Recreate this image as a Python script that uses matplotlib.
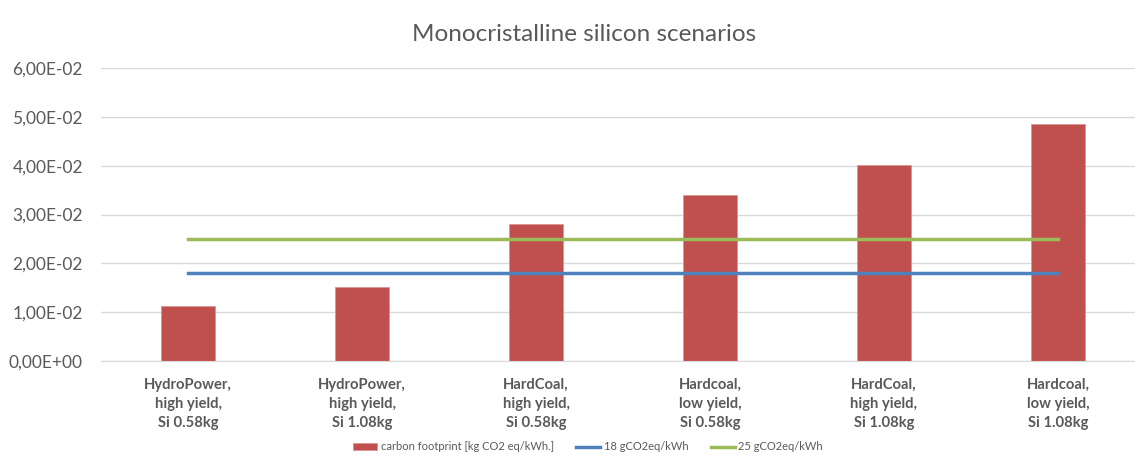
import matplotlib.pyplot as plt
from matplotlib.ticker import FuncFormatter

# scenario data
categories = ["HydroPower,\nhigh yield,\nSi 0.58kg",
              "HydroPower,\nhigh yield,\nSi 1.08kg",
              "HardCoal,\nhigh yield,\nSi 0.58kg",
              "Hardcoal,\nlow yield,\nSi 0.58kg",
              "HardCoal,\nhigh yield,\nSi 1.08kg",
              "Hardcoal,\nlow yield,\nSi 1.08kg"]
footprint = [1.13e-2, 1.52e-2, 2.81e-2, 3.40e-2, 4.01e-2, 4.85e-2]
limit_18 = [0.018] * 6
limit_25 = [0.025] * 6

plt.rcParams['font.family'] = ['Lato', 'DejaVu Sans']

fig = plt.figure(figsize=(11.35, 4.55), dpi=100)
ax = fig.add_axes([0.089, 0.2066, 0.9198, 0.6439])

x = range(len(categories))
bars = ax.bar(x, footprint, width=0.31, color='#C0504D', edgecolor='#D99694', linewidth=0.6,
              label='carbon footprint [kg CO2 eq/kWh.]', zorder=2)
l18, = ax.plot(x, limit_18, color='#4F81BD', linewidth=2.5, label='18 gCO2eq/kWh', zorder=3)
l25, = ax.plot(x, limit_25, color='#9BBB59', linewidth=2.5, label='25 gCO2eq/kWh', zorder=3)

ax.set_xlim(-0.5, 5.5)
ax.set_ylim(0, 0.06)
ax.set_yticks([0, 0.01, 0.02, 0.03, 0.04, 0.05, 0.06])
ax.yaxis.set_major_formatter(FuncFormatter(lambda v, p: f"{v:.2E}".replace('.', ',')))
ax.grid(axis='y', color='#D9D9D9', linewidth=1, zorder=0)
ax.set_axisbelow(True)

ax.set_xticks(list(x))
ax.set_xticklabels(categories, fontweight='bold', fontsize=10.6, color='#595959', linespacing=1.45)
ax.tick_params(axis='x', length=0, pad=12)
ax.tick_params(axis='y', length=0, pad=13, labelsize=12.5, labelcolor='#595959')
for s in ['top', 'right', 'left']:
    ax.spines[s].set_visible(False)
ax.spines['bottom'].set_color('#D9D9D9')

fig.text(0.5145, 0.925, 'Monocristalline silicon scenarios', ha='center', va='center',
         fontsize=17.5, color='#595959')

fig.legend([bars, l18, l25], [bars.get_label(), l18.get_label(), l25.get_label()],
           loc='center', bbox_to_anchor=(0.518, 0.0176), ncol=3, frameon=False,
           fontsize=8, labelcolor='#595959', handlelength=2.2, handletextpad=0.3,
           columnspacing=2.0)

fig.savefig('out.png', dpi=100)
plt.close(fig)
